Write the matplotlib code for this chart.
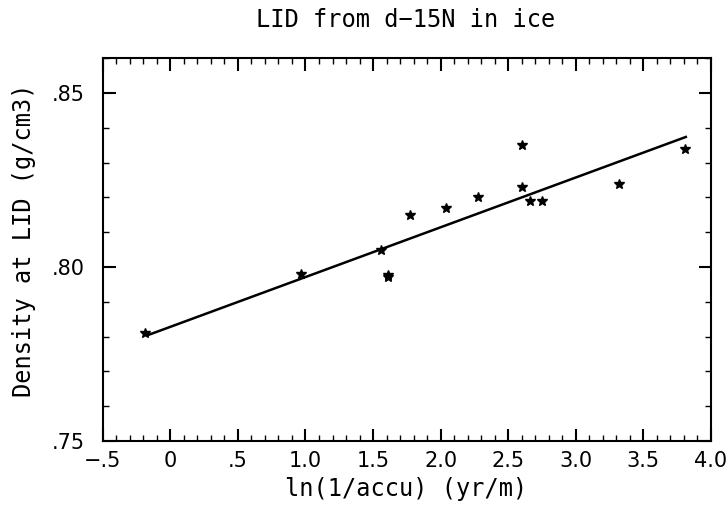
import numpy as np
import matplotlib.pyplot as plt
from matplotlib.ticker import MultipleLocator, FuncFormatter

# data
ln_inv_accu = [-0.19, 0.97, 1.56, 1.61, 1.61, 1.77, 2.04, 2.28, 2.60, 2.60, 2.66, 2.75, 3.32, 3.81]
density = [0.781, 0.798, 0.805, 0.7978, 0.797, 0.815, 0.817, 0.820, 0.835, 0.823, 0.819, 0.819, 0.824, 0.834]

# regression line end points
fit_x = [-0.175, 3.814]
fit_y = [0.7803, 0.8374]

plt.rcParams['font.family'] = ['DejaVu Sans']
label_font = ['DejaVu Sans Mono', 'DejaVu Sans']

fig = plt.figure(figsize=(7.26, 5.08), dpi=100)
ax = fig.add_axes([0.1415, 0.132, 0.8378, 0.7545])

ax.plot(fit_x, fit_y, color="black", linewidth=1.8)
ax.plot(ln_inv_accu, density, linestyle="none", marker="*", markersize=7.5,
        color="black")

ax.set_xlim(-0.5, 4.0)
ax.set_ylim(0.75, 0.8602)

ax.xaxis.set_major_locator(MultipleLocator(0.5))
ax.xaxis.set_minor_locator(MultipleLocator(0.1))
ax.yaxis.set_major_locator(MultipleLocator(0.05))
ax.yaxis.set_minor_locator(MultipleLocator(0.01))


def xfmt(v, pos):
    if abs(v) < 1e-9:
        return "0"
    if abs(v) < 1:
        return ("\u2212" if v < 0 else "") + ".5"
    return f"{v:.1f}"


def yfmt(v, pos):
    return f"{v:.2f}".lstrip("0")


ax.xaxis.set_major_formatter(FuncFormatter(xfmt))
ax.yaxis.set_major_formatter(FuncFormatter(yfmt))

ax.tick_params(which="both", direction="in", top=True, right=True,
               labelsize=15)
ax.tick_params(axis="x", pad=7)
ax.tick_params(axis="y", pad=13)
ax.tick_params(which="major", length=9, width=1.5)
ax.tick_params(which="minor", length=4.5, width=1.0)
for s in ax.spines.values():
    s.set_linewidth(1.5)

fig.text(0.560, 0.037, "ln(1/accu) (yr/m)", ha="center", va="center",
         fontsize=17, family=label_font)
fig.text(0.033, 0.528, "Density at LID (g/cm3)", ha="center", va="center",
         rotation=90, fontsize=17, family=label_font)
fig.text(0.559, 0.961, "LID from d\u221215N in ice", ha="center", va="center",
         fontsize=17, family=label_font)

fig.savefig("out.png", dpi=100)
